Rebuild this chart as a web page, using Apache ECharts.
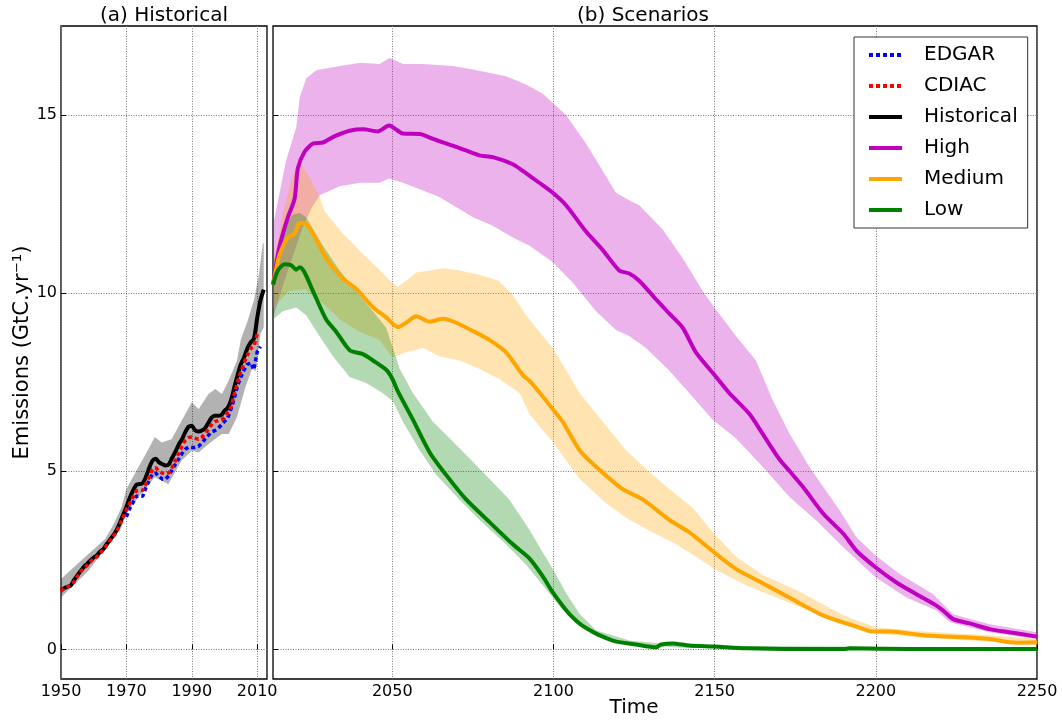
<!DOCTYPE html>
<html><head><meta charset="utf-8">
<script src="https://cdn.jsdelivr.net/npm/echarts@6/dist/echarts.min.js"></script>
<style>html,body{margin:0;padding:0;background:#fff}#c{width:1062px;height:720px}</style>
</head><body><div id="c"></div>
<script>
// ---------- DATA ----------
const histStartYear = 1950;
const historical = [1.65,1.72,1.76,1.80,1.95,2.08,2.20,2.32,2.40,2.50,2.58,2.64,2.75,2.82,2.96,3.08,3.20,3.35,3.55,3.78,
  4.00,4.25,4.45,4.62,4.64,4.67,4.85,5.10,5.30,5.35,5.25,5.20,5.16,5.20,5.38,5.55,5.75,5.90,6.10,6.25,
  6.28,6.15,6.12,6.14,6.20,6.35,6.50,6.56,6.56,6.58,6.70,6.78,7.00,7.35,7.70,8.00,8.20,8.45,8.62,8.72,
  9.30,9.80,10.10];
const cdiacStartYear = 1950;
const cdiac = [1.63,1.72,1.76,1.80,1.90,2.05,2.18,2.28,2.36,2.46,2.56,2.60,2.70,2.80,2.93,3.05,3.18,3.30,3.50,3.72,
  3.92,4.10,4.28,4.45,4.47,4.46,4.66,4.85,5.05,5.10,5.00,4.95,4.93,4.96,5.12,5.30,5.50,5.70,5.87,5.95,
  5.96,5.93,5.90,5.95,6.05,6.17,6.30,6.40,6.42,6.45,6.50,6.65,6.80,7.17,7.50,7.80,8.05,8.25,8.45,8.50,8.85];
const edgarStartYear = 1970;
const edgar = [3.72,3.95,4.12,4.30,4.30,4.30,4.55,4.75,4.93,4.95,4.85,4.78,4.78,4.88,5.05,5.20,5.35,5.50,5.62,5.68,
  5.67,5.67,5.70,5.78,5.90,6.00,6.10,6.14,6.20,6.30,6.40,6.50,6.75,7.05,7.40,7.65,7.85,8.00,8.05,7.85,8.35,8.50];
const histUpper = [[1950,1.98],[1955,2.40],[1958.4,2.68],[1963.5,3.10],[1966,3.50],[1968.5,3.99],[1970,4.50],[1973.6,5.11],
  [1976,5.50],[1978.7,5.96],[1980.8,5.81],[1983.8,5.90],[1986.9,6.42],[1990,6.94],[1992.1,6.75],[1995.1,7.17],[1997.2,7.31],
  [1999.2,7.17],[2001.3,7.55],[2003.8,8.10],[2005,8.70],[2007,9.20],[2009,9.80],[2010.5,10.50],[2011.7,11.40],[2012,11.40]];
const histLower = [[1950,1.46],[1958.4,2.21],[1968.5,3.43],[1970,3.80],[1973.6,4.27],[1978.7,4.83],[1980.8,4.74],[1982.8,4.64],
  [1986.9,5.30],[1990,5.58],[1992.1,5.53],[1995.1,5.77],[1999.2,6.05],[2001.3,6.05],[2003.8,6.52],[2006.4,7.36],[2008.5,7.90],
  [2009.5,7.80],[2011,8.86],[2012,9.04]];

const highLine = [[2013,10.24],[2015,11.3],[2017.5,12.1],[2019.7,12.65],[2020.7,13.5],[2022.8,13.97],[2025.4,14.2],[2028.5,14.23],
  [2032,14.4],[2036.8,14.56],[2041,14.6],[2045.5,14.54],[2049,14.71],[2053.3,14.48],[2058.5,14.47],[2062.6,14.33],[2068.8,14.14],
  [2072.4,14.02],[2077,13.87],[2081.2,13.82],[2087.4,13.62],[2090.5,13.43],[2095.6,13.1],[2099.8,12.82],[2103.9,12.47],
  [2110.1,11.73],[2115.3,11.21],[2120.4,10.64],[2123.5,10.55],[2126.6,10.35],[2131.8,9.83],[2135.9,9.43],[2140.1,9.03],
  [2144.2,8.34],[2149.9,7.71],[2154.5,7.2],[2160.7,6.62],[2164.9,6.05],[2170,5.35],[2173.3,5.0],[2177.5,4.55],[2183.8,3.8],
  [2190,3.24],[2194,2.77],[2200,2.3],[2206.4,1.88],[2212.6,1.55],[2218.8,1.23],[2220.9,1.09],[2224,0.85],[2229.1,0.73],
  [2235.3,0.57],[2241.5,0.48],[2250,0.36]];
const highUpper = [[2013,11.9],[2017,13.7],[2020.2,14.65],[2021.3,15.5],[2023.3,16.03],[2026.4,16.26],[2033.7,16.38],[2040,16.47],
  [2046,16.43],[2049.2,16.6],[2053.3,16.43],[2059.5,16.43],[2068.8,16.38],[2075,16.28],[2085.3,16.09],[2091.5,15.86],[2096.7,15.6],
  [2099.8,15.34],[2103.9,15.0],[2110.1,14.2],[2119.4,12.82],[2123.5,12.61],[2126.6,12.47],[2133.9,11.79],[2140.1,10.98],
  [2146.3,10.06],[2149.9,9.6],[2156.6,8.8],[2162.8,8.11],[2168,7.0],[2173.3,6.05],[2179.5,5.11],[2188.8,3.9],[2194,3.15],
  [2200,2.63],[2207.4,2.12],[2217.8,1.55],[2220.9,1.27],[2224,0.99],[2235.3,0.71],[2250,0.48]];
const highLower = [[2013,9.3],[2016,10.2],[2019,11.0],[2022,11.8],[2025,12.4],[2027.5,12.75],[2033.7,13.0],[2040,13.1],[2046,13.1],
  [2049,13.22],[2053.3,13.1],[2059.5,12.88],[2064.6,12.7],[2070.8,12.36],[2075,12.13],[2081,11.9],[2087.4,11.56],[2092.6,11.33],
  [2099.8,10.87],[2106,10.29],[2113.2,9.49],[2119.4,8.97],[2123.5,8.8],[2128.7,8.46],[2135.9,7.83],[2142.1,7.2],[2149.4,6.45],
  [2156.6,5.93],[2164.9,5.13],[2173.3,4.27],[2181.6,3.61],[2189.9,2.87],[2200,2.02],[2209.5,1.46],[2218.8,1.09],[2223,0.76],
  [2235.3,0.48],[2250,0.29]];

const mediumLine = [[2013,10.24],[2015.1,11.1],[2017.6,11.56],[2019.7,11.67],[2021.1,11.96],[2022.8,11.96],[2025.4,11.67],
  [2029.5,10.98],[2034.7,10.41],[2038.8,10.12],[2044,9.61],[2048.1,9.32],[2051.7,9.05],[2054.3,9.17],[2057.4,9.35],[2061.6,9.2],
  [2065.7,9.28],[2069.8,9.17],[2075,8.94],[2080.1,8.69],[2085.3,8.34],[2090.5,7.7],[2092.6,7.54],[2096.7,7.1],[2099.8,6.74],
  [2102.9,6.39],[2108.1,5.59],[2113.2,5.13],[2121.5,4.5],[2127.7,4.21],[2135.9,3.64],[2142.1,3.29],[2149.9,2.72],[2156.6,2.26],
  [2164.9,1.86],[2173.3,1.45],[2183.8,0.95],[2194,0.64],[2199.2,0.5],[2204.3,0.5],[2214.7,0.4],[2231.2,0.32],[2235.3,0.29],
  [2243.6,0.19],[2250,0.2]];
const mediumUpper = [[2013,10.8],[2016,12.2],[2019,13.3],[2021.5,13.65],[2024,13.3],[2027.5,12.7],[2029,12.3],[2034.7,11.67],
  [2040.9,11.1],[2045,10.75],[2050,10.29],[2051.7,10.18],[2054.3,10.35],[2057.4,10.58],[2061.6,10.64],[2065.7,10.7],[2071,10.64],
  [2077,10.52],[2083,10.35],[2087.4,9.95],[2091.5,9.38],[2096.7,8.8],[2099.8,8.46],[2108.1,7.2],[2115.3,6.39],[2122.5,5.59],
  [2128.7,5.07],[2135.9,4.5],[2143.2,3.98],[2149.9,3.24],[2156.6,2.61],[2164.9,2.09],[2176.2,1.63],[2190,0.95],[2200,0.62],
  [2215,0.5],[2235,0.4],[2250,0.3]];
const mediumLower = [[2013,9.6],[2018,10.06],[2023,10.1],[2028.5,9.72],[2033.7,9.26],[2039.9,8.92],[2046,8.69],[2050,8.2],
  [2054.3,8.34],[2059.5,8.46],[2064.6,8.23],[2070.8,8.11],[2077,7.88],[2083,7.6],[2089.5,7.2],[2092.6,6.6],[2096.7,6.15],
  [2099.8,5.82],[2108.1,4.79],[2116.3,4.1],[2123.5,3.64],[2131.8,3.24],[2138,2.95],[2144.2,2.6],[2149.9,2.26],[2159.7,1.8],
  [2176.2,1.2],[2190,0.75],[2200,0.45],[2215,0.33],[2235,0.22],[2250,0.12]];

const lowLine = [[2013,10.24],[2014.5,10.64],[2016.6,10.81],[2018.7,10.78],[2020.2,10.66],[2021.3,10.73],[2022.8,10.58],
  [2025.4,10.06],[2029.5,9.26],[2032.6,8.92],[2036.8,8.4],[2040.9,8.29],[2044,8.11],[2048.1,7.85],[2050,7.6],[2051.7,7.25],
  [2056.4,6.45],[2061.6,5.53],[2066.7,4.9],[2072.9,4.21],[2080.1,3.58],[2087.4,2.95],[2092.6,2.55],[2096.7,2.05],[2099.8,1.6],
  [2104.9,1.0],[2110.1,0.6],[2118.4,0.25],[2125.6,0.14],[2131.8,0.06],[2133.4,0.14],[2137,0.17],[2142.1,0.11],[2149.9,0.08],
  [2159.7,0.03],[2176.2,0.01],[2190,0.01],[2192,0.03],[2210,0.01],[2250,0.01]];
const lowUpper = [[2013,10.8],[2016,11.8],[2019,12.2],[2021.3,12.25],[2023.3,12.13],[2028.5,11.33],[2033.7,10.64],[2038.8,10.06],
  [2044,9.49],[2048.1,9.03],[2050.2,8.46],[2052.3,7.88],[2056.4,7.2],[2062.6,6.39],[2067.8,5.93],[2074,5.36],[2080.1,4.79],
  [2086.3,4.21],[2092.6,3.35],[2096.7,2.72],[2099.8,2.26],[2104,1.57],[2108.1,1.0],[2113.2,0.54],[2123.5,0.25],[2135,0.15],
  [2150,0.1],[2250,0.05]];
const lowLower = [[2013,9.26],[2016,9.49],[2020.2,9.6],[2023.3,9.38],[2027.4,8.8],[2031.6,8.23],[2036.8,7.65],[2041.9,7.48],
  [2047,7.2],[2050.2,6.97],[2053.3,6.39],[2058.5,5.59],[2063.6,4.9],[2070.8,4.21],[2077,3.64],[2085.3,2.95],[2091.5,2.38],
  [2097.7,1.69],[2102.9,1.11],[2108.1,0.71],[2113.2,0.37],[2123.5,0.14],[2140,0.05],[2250,-0.03]];

const yTicks = [0, 5, 10, 15];
const histTicks = [1950, 1970, 1990, 2010];
const scenTicks = [2050, 2100, 2150, 2200, 2250];
const legendNames = ['EDGAR', 'CDIAC', 'Historical', 'High', 'Medium', 'Low'];

// ---------- CHART ----------
const FONT = 'DejaVu Sans';
const toPairs = (start, arr) => arr.map((v, i) => [start + i, v]);
const chart = echarts.init(document.getElementById('c'), null, { renderer: 'canvas' });

function band(name, upper, lower, color, xi, z) {
  return {
    type: 'custom', name, xAxisIndex: xi, yAxisIndex: xi, z, silent: true, clip: true,
    data: [upper[0]],
    renderItem: (params, api) => {
      const pts = upper.map(p => api.coord(p)).concat(lower.slice().reverse().map(p => api.coord(p)));
      return { type: 'polygon', shape: { points: pts }, style: { fill: color } };
    }
  };
}
function line(name, data, color, xi, z, width, dash) {
  return {
    type: 'line', name, data, xAxisIndex: xi, yAxisIndex: xi, z, symbol: 'none', showSymbol: false,
    smooth: dash ? false : 0.25, silent: true, clip: true,
    itemStyle: { color },
    lineStyle: { color, width, type: dash || 'solid', cap: 'butt' }
  };
}
const gridLine = { show: true, lineStyle: { color: '#7a7a7a', width: 1, type: [1, 1.5] } };
function xAx(gi, min, max, ticks) {
  return {
    type: 'value', gridIndex: gi, min, max,
    axisLine: { show: false },
    axisTick: { show: true, inside: true, length: 5, customValues: ticks, lineStyle: { color: '#000' } },
    axisLabel: { customValues: ticks, formatter: v => String(v), fontFamily: FONT, fontSize: 16, color: '#000', margin: 5 },
    splitLine: gridLine
  };
}
function yAx(gi, labels) {
  return {
    type: 'value', gridIndex: gi, min: -0.83, max: 17.5,
    axisLine: { show: false },
    axisTick: { show: true, inside: true, length: 5, customValues: yTicks, lineStyle: { color: '#000' } },
    axisLabel: { show: labels, customValues: yTicks, formatter: v => String(v), fontFamily: FONT, fontSize: 16, color: '#000', margin: 4 },
    splitLine: gridLine,
    name: labels ? 'Emissions (GtC.yr\u207B\u00B9)' : '',
    nameLocation: 'middle', nameGap: 23,
    nameTextStyle: { fontFamily: FONT, fontSize: 21, color: '#000' }
  };
}

chart.setOption({
  animation: false,
  backgroundColor: '#fff',
  textStyle: { fontFamily: FONT },
  grid: [
    { left: 61, top: 26, width: 206, height: 653, show: true, borderColor: '#000', borderWidth: 1.3, backgroundColor: 'transparent' },
    { left: 273, top: 26, width: 764, height: 653, show: true, borderColor: '#000', borderWidth: 1.3, backgroundColor: 'transparent' }
  ],
  xAxis: [xAx(0, 1950, 2013, histTicks), xAx(1, 2013, 2250, scenTicks)],
  yAxis: [yAx(0, true), yAx(1, false)],
  legend: {
    data: legendNames, orient: 'vertical', left: 854, top: 37,
    itemWidth: 33, itemHeight: 14, itemGap: 11,
    padding: [8, 10, 8, 13],
    backgroundColor: '#fff', borderColor: '#333', borderWidth: 1, borderRadius: 0,
    selectedMode: false,
    itemStyle: { opacity: 0, borderWidth: 0 },
    lineStyle: { width: 4 },
    textStyle: { fontFamily: FONT, fontSize: 20, color: '#000', lineHeight: 20, padding: [0, 0, 0, 17] }
  },
  graphic: [
    { type: 'text', x: 164, y: 16, style: { text: '(a) Historical', font: '20px "DejaVu Sans"', fill: '#000', align: 'center', verticalAlign: 'middle' } },
    { type: 'text', x: 643, y: 16, style: { text: '(b) Scenarios', font: '20px "DejaVu Sans"', fill: '#000', align: 'center', verticalAlign: 'middle' } },
    { type: 'text', x: 634, y: 708, style: { text: 'Time', font: '20px "DejaVu Sans"', fill: '#000', align: 'center', verticalAlign: 'middle' } }
  ],
  series: [
    band('histBand', histUpper, histLower, 'rgba(0,0,0,0.3)', 0, 1),
    band('highBand', highUpper, highLower, 'rgba(191,0,191,0.3)', 1, 1),
    band('mediumBand', mediumUpper, mediumLower, 'rgba(255,165,0,0.3)', 1, 1),
    band('lowBand', lowUpper, lowLower, 'rgba(0,128,0,0.3)', 1, 1),
    line('Historical', toPairs(histStartYear, historical), '#000000', 0, 3, 4),
    line('EDGAR', toPairs(edgarStartYear, edgar), '#0000ff', 0, 4, 3.5, [4, 3]),
    line('CDIAC', toPairs(cdiacStartYear, cdiac), '#ff0000', 0, 4, 3.5, [4, 3]),
    line('High', highLine, '#bf00bf', 1, 3, 4),
    line('Medium', mediumLine, '#ffa500', 1, 4, 4),
    line('Low', lowLine, '#008000', 1, 5, 4)
  ]
});
</script>
</body></html>
